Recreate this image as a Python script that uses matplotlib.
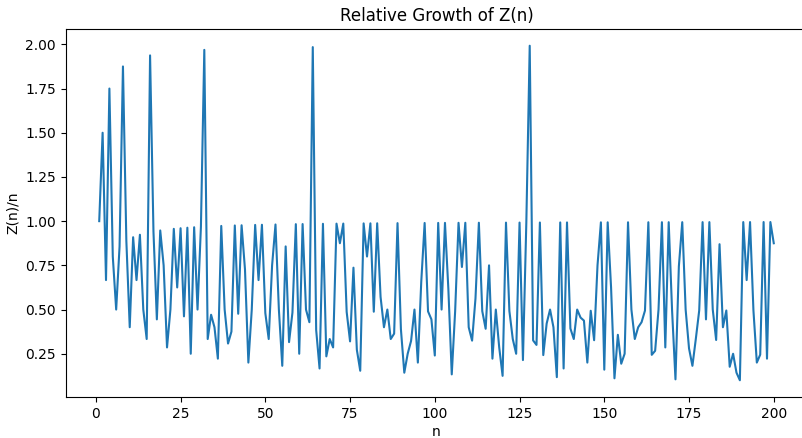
import numpy as np
import matplotlib
matplotlib.use("Agg")
import matplotlib.pyplot as plt

# Z(n) for n = 1..200
n_values = np.arange(1, 201)
z_values = [
    1, 3, 2, 7, 4, 3, 6, 15, 8, 4,
    10, 8, 12, 7, 5, 31, 16, 8, 18, 15,
    6, 11, 22, 15, 24, 12, 26, 7, 28, 15,
    30, 63, 11, 16, 14, 8, 36, 19, 12, 15,
    40, 20, 42, 32, 9, 23, 46, 32, 48, 24,
    17, 39, 52, 27, 10, 48, 18, 28, 58, 15,
    60, 31, 27, 127, 25, 11, 66, 16, 23, 20,
    70, 63, 72, 36, 24, 56, 21, 12, 78, 64,
    80, 40, 82, 48, 34, 43, 29, 32, 88, 35,
    13, 23, 30, 47, 19, 63, 96, 48, 44, 24,
    100, 51, 102, 64, 14, 52, 106, 80, 108, 44,
    36, 63, 112, 56, 45, 87, 26, 59, 34, 15,
    120, 60, 41, 31, 124, 27, 126, 255, 42, 39,
    130, 32, 56, 67, 54, 16, 136, 23, 138, 55,
    47, 71, 65, 63, 29, 72, 48, 111, 148, 24,
    150, 95, 17, 55, 30, 39, 156, 79, 53, 64,
    69, 80, 162, 40, 44, 83, 166, 48, 168, 84,
    18, 128, 172, 87, 49, 32, 59, 88, 178, 80,
    180, 91, 60, 160, 74, 92, 33, 47, 27, 19,
    190, 128, 192, 96, 39, 48, 196, 44, 198, 175,
]

ratio = np.array(z_values) / n_values

fig = plt.figure(figsize=(8.02, 4.38), dpi=100)
ax = fig.add_axes([65.5 / 802, 41 / 438, 742 / 802, 368 / 438])
ax.plot(n_values, ratio)
ax.set_title("Relative Growth of Z(n)")
ax.set_xlabel("n", labelpad=3)
ax.set_ylabel("Z(n)/n")

fig.savefig("out.png", dpi=100)
